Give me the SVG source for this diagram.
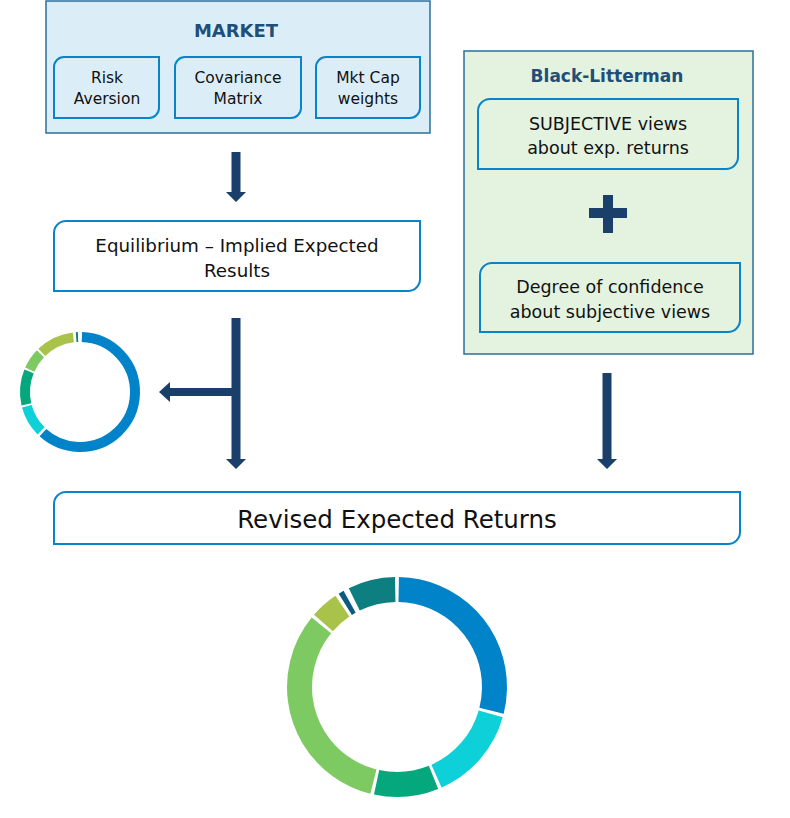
<svg xmlns="http://www.w3.org/2000/svg" width="790" height="818" viewBox="0 0 790 818">
<style>
.t{font-family:"DejaVu Sans","Liberation Sans",sans-serif;fill:#111;text-anchor:middle}
.ttl{font-family:"DejaVu Sans","Liberation Sans",sans-serif;font-weight:bold;fill:#1f4e79;text-anchor:middle}
.box{fill:#fff;stroke:#0a84c8;stroke-width:2}
.sub{fill:none;stroke:#0a84c8;stroke-width:2}
.arr{fill:#1b3f6b}
.seg{fill:none}
</style>
<rect width="790" height="818" fill="#fff"/>
<g id="market">
<rect x="46" y="1" width="384" height="132" fill="#dbeef8" stroke="#2b6f9b" stroke-width="1.5"/>
<text class="ttl" x="236" y="37" font-size="18">MARKET</text>
</g>
<g id="risk-aversion">
<path class="sub" d="M64,57 H159 V108 A10,10 0 0 1 149,118 H54 V67 A10,10 0 0 1 64,57 Z"/>
<text class="t" x="107" y="83" font-size="15.5">Risk</text>
<text class="t" x="107" y="104" font-size="15.5">Aversion</text>
</g>
<g id="covariance-matrix">
<path class="sub" d="M185,57 H301 V108 A10,10 0 0 1 291,118 H175 V67 A10,10 0 0 1 185,57 Z"/>
<text class="t" x="238" y="83" font-size="15.5">Covariance</text>
<text class="t" x="238" y="104" font-size="15.5">Matrix</text>
</g>
<g id="mkt-cap-weights">
<path class="sub" d="M326,57 H420 V108 A10,10 0 0 1 410,118 H316 V67 A10,10 0 0 1 326,57 Z"/>
<text class="t" x="368" y="83" font-size="15.5">Mkt Cap</text>
<text class="t" x="368" y="104" font-size="15.5">weights</text>
</g>
<g id="equilibrium">
<path class="box" d="M66,221 H420 V279 A12,12 0 0 1 408,291 H54 V233 A12,12 0 0 1 66,221 Z"/>
<text class="t" x="237" y="252" font-size="18.3">Equilibrium – Implied Expected</text>
<text class="t" x="237" y="277" font-size="18.3">Results</text>
</g>
<g id="black-litterman">
<rect x="464" y="51" width="289" height="303" fill="#e4f2e0" stroke="#2b6f9b" stroke-width="1.5"/>
<text class="ttl" x="607" y="82" font-size="17">Black-Litterman</text>
<rect x="603" y="195" width="10" height="38" fill="#1b3f6b"/>
<rect x="589" y="208" width="38" height="10" fill="#1b3f6b"/>
</g>
<g id="subjective-views">
<path class="sub" d="M490,99 H738 V157 A12,12 0 0 1 726,169 H478 V111 A12,12 0 0 1 490,99 Z"/>
<text class="t" x="608" y="130" font-size="17.5">SUBJECTIVE views</text>
<text class="t" x="608" y="154" font-size="17.5">about exp. returns</text>
</g>
<g id="degree-of-confidence">
<path class="sub" d="M492,263 H740 V320 A12,12 0 0 1 728,332 H480 V275 A12,12 0 0 1 492,263 Z"/>
<text class="t" x="610" y="293" font-size="17.5">Degree of confidence</text>
<text class="t" x="610" y="318" font-size="17.5">about subjective views</text>
</g>
<g id="revised-expected-returns">
<path class="box" d="M66,492 H740 V532 A12,12 0 0 1 728,544 H54 V504 A12,12 0 0 1 66,492 Z"/>
<text class="t" x="397" y="528" font-size="24.5">Revised Expected Returns</text>
</g>
<g id="current-allocation">
<circle class="seg" cx="80" cy="392" r="55" stroke="#0083c8" stroke-width="10" stroke-dasharray="211.2 400" transform="rotate(-88 80 392)"/>
<circle class="seg" cx="80" cy="392" r="55" stroke="#0dd0d8" stroke-width="10" stroke-dasharray="28.8 400" transform="rotate(135 80 392)"/>
<circle class="seg" cx="80" cy="392" r="55" stroke="#05a77c" stroke-width="10" stroke-dasharray="33.6 400" transform="rotate(167 80 392)"/>
<circle class="seg" cx="80" cy="392" r="55" stroke="#7dca62" stroke-width="10" stroke-dasharray="19.2 400" transform="rotate(204 80 392)"/>
<circle class="seg" cx="80" cy="392" r="55" stroke="#a9c34a" stroke-width="10" stroke-dasharray="35.5 400" transform="rotate(226 80 392)"/>
<circle class="seg" cx="80" cy="392" r="55" stroke="#0b7f80" stroke-width="10" stroke-dasharray="1.9 400" transform="rotate(266 80 392)"/>
</g>
<g id="revised-allocation">
<circle class="seg" cx="397" cy="687" r="97.5" stroke="#0083c8" stroke-width="25" stroke-dasharray="175.3 700" transform="rotate(-89 397 687)"/>
<circle class="seg" cx="397" cy="687" r="97.5" stroke="#0dd0d8" stroke-width="25" stroke-dasharray="85.1 700" transform="rotate(16 397 687)"/>
<circle class="seg" cx="397" cy="687" r="97.5" stroke="#05a77c" stroke-width="25" stroke-dasharray="57.9 700" transform="rotate(68 397 687)"/>
<circle class="seg" cx="397" cy="687" r="97.5" stroke="#7dca62" stroke-width="25" stroke-dasharray="195.7 700" transform="rotate(104 397 687)"/>
<circle class="seg" cx="397" cy="687" r="97.5" stroke="#a9c34a" stroke-width="25" stroke-dasharray="25.5 700" transform="rotate(221 397 687)"/>
<circle class="seg" cx="397" cy="687" r="97.5" stroke="#0b5a80" stroke-width="25" stroke-dasharray="5.1 700" transform="rotate(238 397 687)"/>
<circle class="seg" cx="397" cy="687" r="97.5" stroke="#0e7f80" stroke-width="25" stroke-dasharray="42.5 700" transform="rotate(244 397 687)"/>
</g>
<g id="connectors">
<polygon class="arr" points="231.5,152 240.5,152 240.5,192 246,192 236,202 226,192 231.5,192"/>
<polygon class="arr" points="231.5,318 240.5,318 240.5,459 246,459 236,469 226,459 231.5,459"/>
<polygon class="arr" points="236,388 170,388 170,382 159,392 170,402 170,396 236,396"/>
<polygon class="arr" points="602.5,373 611.5,373 611.5,459 617,459 607,469 597,459 602.5,459"/>
</g>
</svg>
